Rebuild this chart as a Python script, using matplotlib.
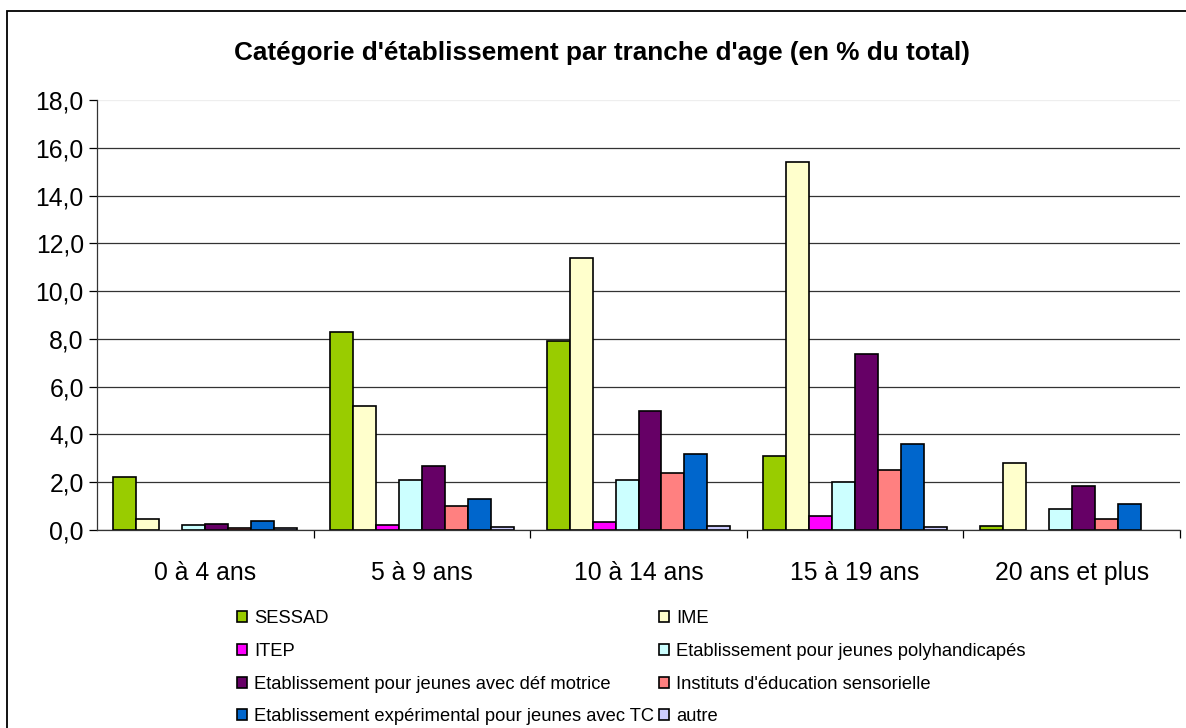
import numpy as np
import matplotlib
matplotlib.use("Agg")
import matplotlib.pyplot as plt
from matplotlib.patches import Rectangle
from matplotlib.ticker import FuncFormatter, FixedLocator

plt.rcParams['font.family'] = ['Liberation Sans', 'DejaVu Sans']

title = "Catégorie d'établissement par tranche d'age (en % du total)"
categories = ["0 à 4 ans", "5 à 9 ans", "10 à 14 ans", "15 à 19 ans", "20 ans et plus"]

series_names = [
    "SESSAD",
    "IME",
    "ITEP",
    "Etablissement pour jeunes polyhandicapés",
    "Etablissement pour jeunes avec déf motrice",
    "Instituts d'éducation sensorielle",
    "Etablissement expérimental pour jeunes avec TC",
    "autre",
]
sessad = [2.2, 8.3, 7.9, 3.1, 0.15]
ime = [0.45, 5.2, 11.4, 15.4, 2.8]
itep = [0.0, 0.2, 0.35, 0.57, 0.0]
polyh = [0.2, 2.1, 2.1, 2.0, 0.9]
motrice = [0.27, 2.7, 5.0, 7.35, 1.85]
sensor = [0.07, 1.0, 2.4, 2.5, 0.45]
exper = [0.38, 1.3, 3.2, 3.6, 1.1]
autre = [0.07, 0.13, 0.15, 0.14, 0.0]
series = [sessad, ime, itep, polyh, motrice, sensor, exper, autre]
colors = ["#99CC00", "#FFFFCC", "#FF00FF", "#CCFFFF", "#660066", "#FF8080", "#0066CC", "#CCCCFF"]

W, H = 1186, 728
fig = plt.figure(figsize=(W / 100, H / 100), dpi=100)
ax = fig.add_axes([97 / W, 1 - 530 / H, (1180 - 97) / W, (530 - 100) / H])

x = np.arange(len(categories))
bw = 0.106
handles = []
for j, (vals, c, name) in enumerate(zip(series, colors, series_names)):
    v = np.array(vals, dtype=float)
    v = np.where(v > 0, v, np.nan)
    b = ax.bar(x + (j - 3.5) * bw, v, width=bw, color=c, edgecolor='black',
               linewidth=1.2, label=name, zorder=3)
    handles.append(b)

ax.set_xlim(-0.5, len(categories) - 0.5)
ax.set_ylim(0, 18)
ax.set_yticks(np.arange(0, 18.1, 2))
ax.yaxis.set_major_formatter(FuncFormatter(lambda v, p: f"{v:.1f}".replace('.', ',')))
ax.set_xticks(x)
ax.set_xticklabels(categories)
ax.xaxis.set_minor_locator(FixedLocator(np.arange(0.5, len(categories) - 0.4, 1)))
ax.tick_params(axis='x', which='major', length=0, labelsize=17.8, pad=22)
ax.tick_params(axis='x', which='minor', length=5.5, width=0.9, direction='out')
ax.tick_params(axis='y', length=5.5, width=0.9, labelsize=17.8, pad=4)

ax.yaxis.grid(True, color='#333333', linewidth=0.9, zorder=0)
ax.get_ygridlines()[-1].set_color('#eeeeee')
ax.set_axisbelow(True)
for s in ['top', 'right']:
    ax.spines[s].set_visible(False)
for s in ['left', 'bottom']:
    ax.spines[s].set_linewidth(0.9)
    ax.spines[s].set_color('#333333')
ax.spines['bottom'].set_zorder(4)

fig.text(602 / W, 1 - 53 / H, title, ha='center', va='center',
         fontsize=18.8, fontweight='bold')

order = [0, 2, 4, 6, 1, 3, 5, 7]
leg = fig.legend([handles[i] for i in order], [series_names[i] for i in order],
                 ncol=2, loc='upper left', bbox_to_anchor=(237 / W, 1 - 610 / H),
                 frameon=False, fontsize=13.2, handlelength=0.55, handleheight=0.55,
                 handletextpad=0.4, labelspacing=0.86, columnspacing=0.25,
                 borderpad=0, borderaxespad=0)

fig.add_artist(Rectangle((7 / W, -0.02), 1.05, 1 - 11 / H + 0.02,
                         transform=fig.transFigure, fill=False,
                         edgecolor='black', linewidth=1.3))

fig.savefig("out.png", dpi=100)
